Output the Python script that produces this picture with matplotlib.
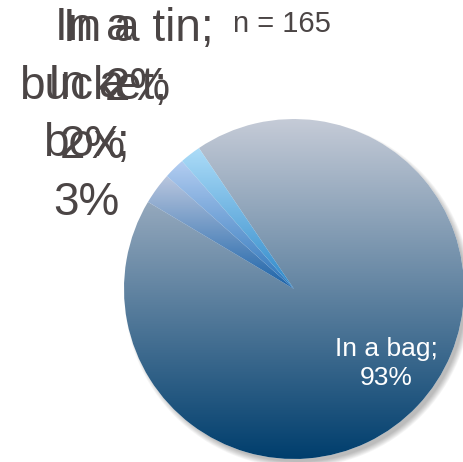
import matplotlib.pyplot as plt
import numpy as np
from matplotlib.patches import Circle

# where the items are kept (n = 165)
labels = ["In a bag;", "In a\nbox;", "In a\nbucket;", "In a tin;"]
shares = [93, 3, 2, 2]
n_total = 165

# top / bottom colour of each slice's gradient
grad_top = ["#c5cbd7", "#b9c6de", "#b3cdf1", "#acdcf8"]
grad_bottom = ["#003e6d", "#1a62a8", "#2a74ba", "#2d88c9"]

W, H = 464, 462
fig = plt.figure(figsize=(W / 100, H / 100), dpi=100)
ax = fig.add_axes([0, 0, 1, 1])

cx, cy, r = 294, 173, 170

# soft drop shadow behind the pie
for k in range(8):
    ax.add_patch(Circle((cx + 4, cy - 5), r - 2 + k * 0.8, color="#000000",
                        alpha=0.035, lw=0, zorder=0))

wedges, _ = ax.pie(shares, center=(cx, cy), radius=r, startangle=124,
                   counterclock=False,
                   wedgeprops=dict(facecolor="none", edgecolor="none"))


def gradient_fill(wedge, c_top, c_bot):
    x0, y0, x1, y1 = wedge.get_path().get_extents().extents
    t = np.linspace(0, 1, 256)[:, None]
    a = np.array(plt.matplotlib.colors.to_rgb(c_top))
    b = np.array(plt.matplotlib.colors.to_rgb(c_bot))
    img = (a * (1 - t) + b * t)[:, None, :]
    ax.imshow(img, extent=(x0, x1, y0, y1), origin="upper", aspect="auto",
              interpolation="bilinear", clip_path=wedge, zorder=1)


for w, ct, cb in zip(wedges, grad_top, grad_bottom):
    w.set_facecolor("white")
    w.set_zorder(0.5)
    gradient_fill(w, ct, cb)

txt_col = "#4b4545"
font = "Liberation Sans"

# label inside the big slice (anchored on its last line)
ax.text(386, 77, f"{labels[0]}\n{shares[0]}%", color="white", fontsize=19,
        family=font, ha="center", va="baseline", linespacing=1.28, zorder=3)

# outside labels, stacked at the upper left
out_pos = {1: (86, 247), 2: (93, 304), 3: (138, 362)}
for i, (x, y) in out_pos.items():
    ax.text(x, y, f"{labels[i]}\n{shares[i]}%", color=txt_col, fontsize=33,
            family=font, ha="center", va="baseline", linespacing=1.44,
            zorder=3)

ax.text(233, 430, f"n = {n_total}", color=txt_col, fontsize=21, family=font,
        ha="left", va="baseline", zorder=3)

ax.set_xlim(0, W)
ax.set_ylim(0, H)
ax.set_aspect("auto")
ax.axis("off")

fig.savefig("out.png", dpi=100)
